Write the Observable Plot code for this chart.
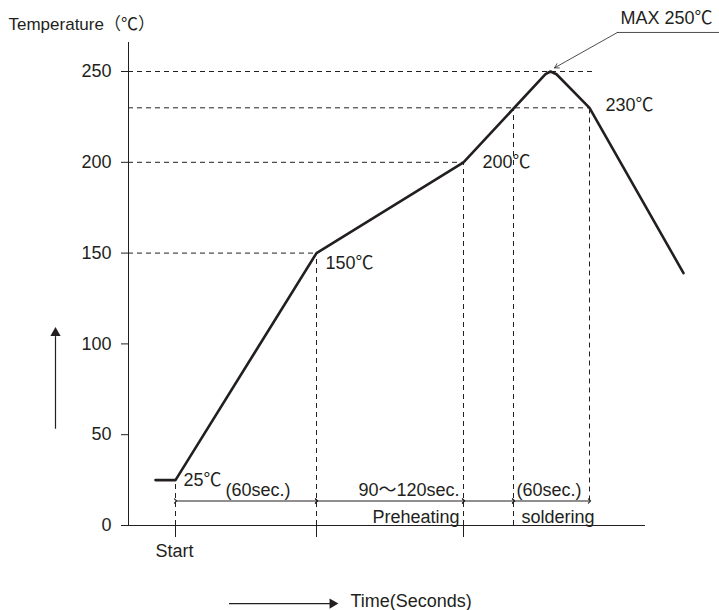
<!DOCTYPE html>
<html><head><meta charset="utf-8">
<script src="https://cdn.jsdelivr.net/npm/d3@7"></script>
<script src="https://cdn.jsdelivr.net/npm/@observablehq/plot@0.6"></script>
<style>body{margin:0;background:#fff}svg{display:block}</style>
</head><body><div id="chart"></div>
<script>
// Reflow profile (schematic time units, temperature in ℃)
const time = [-20, 0, 141, 288, 370, 375, 381, 414, 508];
const temperature = [25, 25, 150, 200, 248.5, 250, 248.5, 230, 139];

const yTicks = [0, 50, 100, 150, 200, 250];
const xTickTimes = [0, 141, 288];

// dashed guide lines
const hGuideTemp = [250, 230, 200, 150];
const hGuideEnd = [417, 415, 288, 141];
const vGuideTime = [0, 141, 288, 338, 414];
const vGuideTop = [25, 150, 200, 230, 230];
const vGuideBottom = [0, 0, 0, 0, 13.5];

// dimension line
const dimBounds = [0, 141, 288, 338, 414];
const dimLevel = 13.5;

// annotations (start anchored)
const labelText = ["Temperature（℃）", "MAX 250℃", "230℃", "200℃", "150℃", "25℃", "(60sec.)", "(60sec.)", "soldering", "Start", "Time(Seconds)"];
const labelTime = [-167, 445, 430, 307, 150, 8, 50, 341, 346, -20, 175];
const labelTemp = [272.6, 276.4, 228.5, 196.6, 141.5, 22, 16.5, 16.5, 1.6, -17.6, -45];
// annotations (end anchored)
const labelEndText = ["90～120sec.", "Preheating"];
const labelEndTime = [284, 284];
const labelEndTemp = [16.5, 1.6];

const ink = "#231f20";
const font = "'Liberation Sans', Arial, 'Noto Sans CJK JP', sans-serif";

const profile = time.map((t, i) => ({t, v: temperature[i]}));
const hGuides = hGuideTemp.map((v, i) => ({v, end: hGuideEnd[i]}));
const vGuides = vGuideTime.map((t, i) => ({t, top: vGuideTop[i], bottom: vGuideBottom[i]}));
const dims = dimBounds.slice(0, -1).map((a, i) => ({a, b: dimBounds[i + 1]}));
const labels = labelText.map((text, i) => ({text, t: labelTime[i], v: labelTemp[i]}));
const labelsEnd = labelEndText.map((text, i) => ({text, t: labelEndTime[i], v: labelEndTemp[i]}));

const chart = Plot.plot({
  width: 719, height: 610,
  marginLeft: 128, marginRight: 74, marginTop: 71, marginBottom: 85,
  style: {fontFamily: font, fontSize: "18px", color: ink, background: "#fff", overflow: "visible"},
  x: {domain: [-47, 470], axis: null},
  y: {domain: [0, 250], axis: null},
  marks: [
    Plot.axisY({ticks: yTicks, tickSize: 7, tickPadding: 10, fontSize: 18, label: null}),
    Plot.axisX({ticks: xTickTimes, tickSize: 12, tickFormat: () => "", label: null}),
    Plot.ruleX([-47], {y1: 0, y2: 266, stroke: ink}),
    Plot.ruleY([0], {x1: -47, x2: 470, stroke: ink}),
    Plot.ruleY(hGuides, {y: "v", x1: -47, x2: "end", stroke: ink, strokeDasharray: "5,4"}),
    Plot.ruleX(vGuides, {x: "t", y1: "bottom", y2: "top", stroke: ink, strokeDasharray: "5,4"}),
    Plot.link(dims, {x1: "a", x2: "b", y1: dimLevel, y2: dimLevel, stroke: ink, strokeWidth: 1.1, markerStart: "arrow", markerEnd: "arrow"}),
    Plot.line(profile, {x: "t", y: "v", stroke: ink, strokeWidth: 2.6, strokeLinejoin: "round"}),
    // MAX leader
    Plot.ruleY([271.5], {x1: 442, x2: 544, stroke: ink, strokeWidth: 0.8}),
    Plot.arrow([{}], {x1: 442, y1: 271.5, x2: 379, y2: 252, stroke: ink, strokeWidth: 0.8, headLength: 9}),
    // vertical arrow
    Plot.ruleX([-120], {y1: 53, y2: 104, stroke: ink, strokeWidth: 1.2}),
    Plot.dot([{}], {x: -120, y: 106, symbol: "triangle", r: 3.8, fill: ink, stroke: null}),
    // time arrow
    Plot.ruleY([-43], {x1: 54, x2: 157, stroke: ink, strokeWidth: 1.2}),
    Plot.dot([{}], {x: 157, y: -43, symbol: "triangle", r: 3.8, rotate: 90, fill: ink, stroke: null}),
    Plot.text(labels.slice(0, 1), {x: "t", y: "v", text: "text", textAnchor: "start", lineAnchor: "bottom", fill: ink, fontSize: 17}),
    Plot.text(labels.slice(1), {x: "t", y: "v", text: "text", textAnchor: "start", lineAnchor: "bottom", fill: ink}),
    Plot.text(labelsEnd, {x: "t", y: "v", text: "text", textAnchor: "end", lineAnchor: "bottom", fill: ink})
  ]
});
document.getElementById("chart").append(chart);
</script>
</body></html>
